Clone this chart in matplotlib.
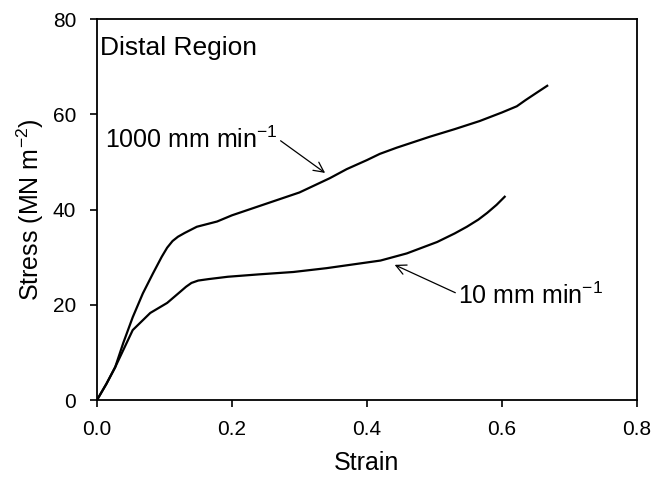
import matplotlib
matplotlib.use("Agg")
import matplotlib.pyplot as plt

plt.rcParams['font.family'] = ['Liberation Sans', 'DejaVu Sans']
plt.rcParams['mathtext.default'] = 'regular'

# 1000 mm/min curve
strain_1000 = [0.0, 0.014, 0.027, 0.039, 0.053, 0.068, 0.083, 0.096, 0.104, 0.112,
               0.120, 0.130, 0.148, 0.178, 0.200, 0.250, 0.300, 0.345, 0.370, 0.400,
               0.419, 0.444, 0.493, 0.530, 0.567, 0.600, 0.622, 0.635, 0.652, 0.667]
stress_1000 = [0.0, 3.4, 6.9, 12.0, 17.4, 22.4, 26.6, 30.1, 32.0, 33.4,
               34.3, 35.1, 36.4, 37.5, 38.8, 41.2, 43.6, 46.6, 48.5, 50.4,
               51.7, 53.0, 55.3, 56.9, 58.6, 60.4, 61.7, 63.0, 64.6, 66.0]

# 10 mm/min curve
strain_10 = [0.0, 0.014, 0.027, 0.053, 0.079, 0.104, 0.123, 0.132, 0.140, 0.150,
             0.165, 0.194, 0.240, 0.291, 0.340, 0.390, 0.420, 0.459, 0.504, 0.530,
             0.548, 0.565, 0.578, 0.592, 0.604]
stress_10 = [0.0, 3.4, 6.9, 14.7, 18.3, 20.4, 22.7, 23.8, 24.6, 25.1,
             25.4, 25.9, 26.4, 26.9, 27.7, 28.7, 29.3, 30.8, 33.2, 35.0,
             36.4, 37.9, 39.3, 41.0, 42.7]

x_ticks = [0.0, 0.2, 0.4, 0.6, 0.8]
y_ticks = [0, 20, 40, 60, 80]

fig = plt.figure(figsize=(6.55, 4.78), dpi=100)
ax = fig.add_axes([0.148, 0.163, 0.8245, 0.797])

ax.plot(strain_1000, stress_1000, color='black', lw=1.6)
ax.plot(strain_10, stress_10, color='black', lw=1.6)

ax.set_xlim(0, 0.8)
ax.set_ylim(0, 80)
ax.set_xticks(x_ticks)
ax.set_xticklabels([f"{v:.1f}" for v in x_ticks])
ax.set_yticks(y_ticks)
ax.tick_params(direction='out', length=5, width=1.2, labelsize=15, colors='black')
ax.tick_params(axis='x', pad=9)
ax.tick_params(axis='y', pad=10)
for s in ax.spines.values():
    s.set_linewidth(1.3)

ax.set_xlabel('Strain', fontsize=18, labelpad=9)
ax.set_ylabel('Stress (MN m$^{-2}$)', fontsize=18, labelpad=5)

ax.text(0.005, 74.0, 'Distal Region', fontsize=19, va='center', ha='left')

ax.annotate('1000 mm min$^{-1}$', xy=(0.338, 47.7), xytext=(0.012, 54.6),
            fontsize=18, va='center', ha='left',
            arrowprops=dict(arrowstyle='->', color='black', lw=0.9,
                            shrinkA=0, shrinkB=0, relpos=(1.0, 0.55)))
ax.annotate('10 mm min$^{-1}$', xy=(0.441, 28.4), xytext=(0.535, 22.0),
            fontsize=18, va='center', ha='left',
            arrowprops=dict(arrowstyle='->', color='black', lw=0.9,
                            shrinkA=0, shrinkB=0, relpos=(0.0, 0.55)))

fig.savefig('out.png', dpi=100)
